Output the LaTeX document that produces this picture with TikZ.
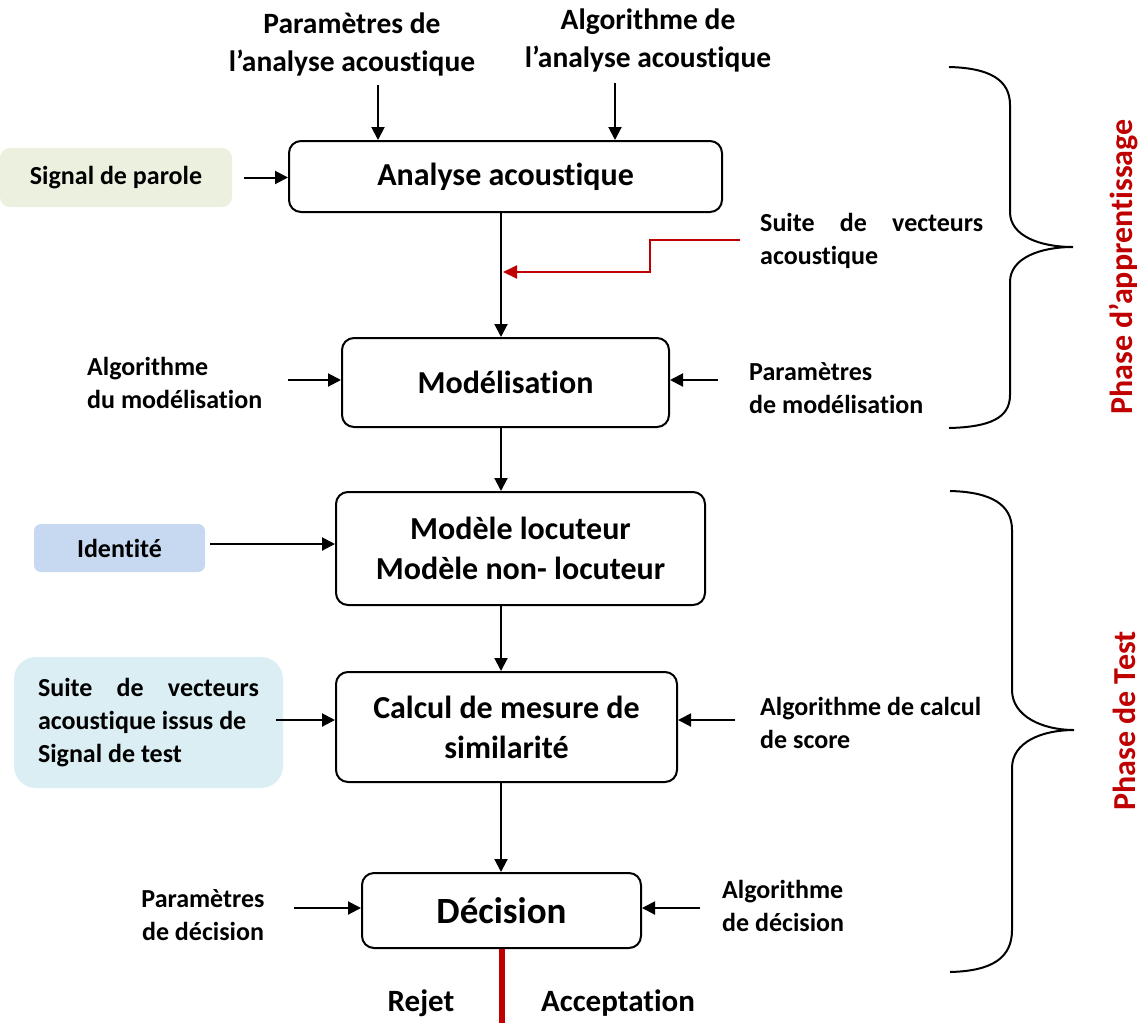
\documentclass[tikz,border=0pt]{standalone}
\usepackage{fontspec}
\setmainfont{Carlito}[RawFeature={-liga;-clig;-calt;-dlig}]
\usetikzlibrary{arrows.meta}
\definecolor{rd}{HTML}{C00000}
\definecolor{greenfill}{HTML}{EBF1DE}
\definecolor{bluefill}{HTML}{C6D9F1}
\definecolor{cyanfill}{HTML}{DAEEF3}
\begin{document}
\begin{tikzpicture}[x=1pt,y=-1pt,
  box/.style={draw, line width=2pt, rounded corners=12pt, align=center, inner sep=0pt,
    font=\bfseries\fontsize{32}{40}\selectfont},
  arr/.style={line width=2pt, -{Triangle[length=13pt,width=13pt]}},
  lbl/.style={align=left, inner sep=0pt, font=\bfseries\fontsize{26}{33}\selectfont},
  toplbl/.style={align=center, inner sep=0pt, font=\bfseries\fontsize{29.5}{38}\selectfont},
  inbox/.style={rounded corners=10pt, inner sep=0pt, align=left, font=\bfseries\fontsize{26}{33}\selectfont},
  brace/.style={line width=2pt},
  phase/.style={rotate=90, text=rd, inner sep=0pt, font=\bfseries\fontsize{32}{38}\selectfont}
]
\useasboundingbox (0,0) rectangle (1145,1023);

% main boxes
\node[box, minimum width=433pt, minimum height=71pt] (an) at (505.5,176.5) {Analyse acoustique};
\node[box, minimum width=327pt, minimum height=89pt] (mo) at (505.5,382.5) {Modélisation};
\node[box, minimum width=369pt, minimum height=113pt] (mm) at (520.5,548.5) {Modèle locuteur\\Modèle non- locuteur};
\node[box, minimum width=341pt, minimum height=110pt] (ca) at (506.5,727) {Calcul de mesure de\\similarité};
\node[box, minimum width=279pt, minimum height=75pt, font=\bfseries\fontsize{37}{44}\selectfont] (de) at (501.5,910.5) {Décision};

% input boxes
\node[inbox, fill=greenfill, minimum width=232pt, minimum height=59pt, align=center] (sp) at (116,177.5) {Signal de parole};
\node[inbox, fill=bluefill, minimum width=171pt, minimum height=48pt, rounded corners=7pt, align=center] (id) at (119.5,548) {Identité};
\node[inbox, fill=cyanfill, minimum width=269pt, minimum height=131pt, rounded corners=22pt] (sb) at (148.5,722.5)
  {\parbox{221pt}{\makebox[221pt][s]{Suite de vecteurs}\\acoustique issus de\\Signal de test}};

% labels
\node[toplbl] (pa) at (352,44) {Paramètres de\\l’analyse acoustique};
\node[toplbl] (aa) at (648,40) {Algorithme de\\l’analyse acoustique};
\node[lbl, anchor=west] (sv) at (760,241) {\parbox{223pt}{\makebox[223pt][s]{Suite de vecteurs}\\acoustique}};
\node[lbl, anchor=west] (am) at (87,383) {Algorithme\\du modélisation};
\node[lbl, anchor=west] (pm) at (749,388) {Paramètres\\de modélisation};
\node[lbl, anchor=west] (ac) at (760,723) {Algorithme de calcul\\de score};
\node[lbl, align=center] (pd) at (203,915) {Paramètres\\de décision};
\node[lbl, anchor=west] (ad) at (722,906) {Algorithme\\de décision};
\node[inner sep=0pt, font=\bfseries\fontsize{31}{37}\selectfont] (rj) at (421,1003) {Rejet};
\node[inner sep=0pt, font=\bfseries\fontsize{31}{37}\selectfont] (acc) at (618,1003) {Acceptation};

\node[phase] (ph1) at (1124,267) {Phase d’apprentissage};
\node[phase] (ph2) at (1124,721) {Phase de Test};

% coordinates
\coordinate (xm) at (501,0);
\coordinate (c1) at (378,85);
\coordinate (c2) at (615,83);
\coordinate (c3) at (288,380);
\coordinate (c4) at (718,380);
\coordinate (c5) at (210,544);
\coordinate (c6) at (276,720);
\coordinate (c7) at (735,720);
\coordinate (c8) at (294,908);
\coordinate (c9) at (700,908);
\coordinate (r0) at (740,240);
\coordinate (r1) at (650,240);
\coordinate (r2) at (650,272);
\coordinate (r3) at (503,272);
\coordinate (bot) at (502,1023);

% connectors
\draw[arr] (c1) -- (c1 |- an.north);
\draw[arr] (c2) -- (c2 |- an.north);
\draw[arr] ([xshift=12pt]sp.east) -- (an.west |- sp.east);
\draw[arr] (an.south -| xm) -- (mo.north -| xm);
\draw[arr] (c3) -- (c3 -| mo.west);
\draw[arr] (c4) -- (c4 -| mo.east);
\draw[arr] (mo.south -| xm) -- (mm.north -| xm);
\draw[arr] (c5) -- (c5 -| mm.west);
\draw[arr] (mm.south -| xm) -- (ca.north -| xm);
\draw[arr] (c6) -- (c6 -| ca.west);
\draw[arr] (c7) -- (c7 -| ca.east);
\draw[arr] (ca.south -| xm) -- (de.north -| xm);
\draw[arr] (c8) -- (c8 -| de.west);
\draw[arr] (c9) -- (c9 -| de.east);
\draw[rd, line width=2pt, -{Triangle[length=14pt,width=13pt]}] (r0) -- (r1) -- (r2) -- (r3);
\draw[rd, line width=6pt] (de.south -| bot) -- (bot);

% braces
\draw[brace] (949,67) .. controls (990,68) and (1010,80) .. (1010,105) -- (1010,212)
  .. controls (1010,236) and (1040,247) .. (1073,247)
  .. controls (1040,247) and (1010,258) .. (1010,282) -- (1010,395)
  .. controls (1010,418) and (990,427) .. (949,428);
\draw[brace] (950,491) .. controls (992,492) and (1012,505) .. (1012,530) -- (1012,690)
  .. controls (1012,716) and (1042,730) .. (1074,730)
  .. controls (1042,730) and (1012,742) .. (1012,768) -- (1012,930)
  .. controls (1012,958) and (992,971) .. (950,972);
\end{tikzpicture}
\end{document}
